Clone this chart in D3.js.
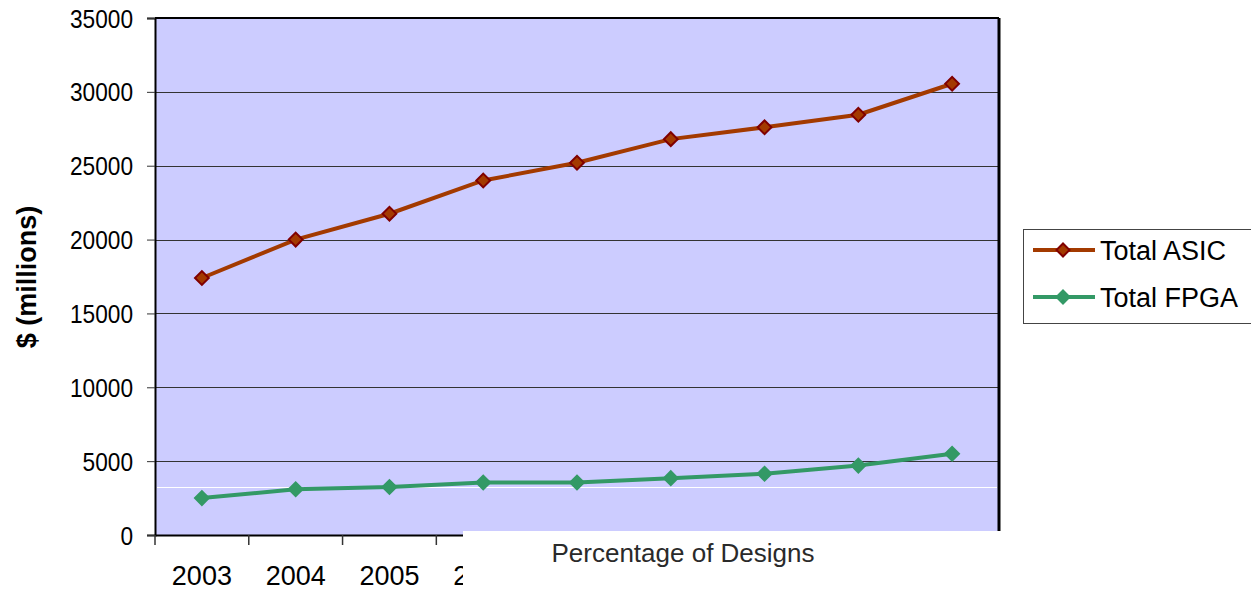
<!DOCTYPE html>
<html>
<head>
<meta charset="utf-8">
<script src="https://cdn.jsdelivr.net/npm/d3@7"></script>
<style>
  body { margin: 0; background: #fff; }
  svg { display: block; font-family: Arial, "Liberation Sans", sans-serif; }
</style>
</head>
<body>
<div id="chart"></div>
<script>
const years = ['2003', '2004', '2005', '2006', '2007', '2008', '2009', '2010', '2011']
const asic = [17400, 20000, 21750, 24000, 25200, 26800, 27600, 28450, 30550]
const fpga = [2500, 3100, 3250, 3550, 3550, 3850, 4150, 4700, 5500]
const yTicks = [0, 5000, 10000, 15000, 20000, 25000, 30000, 35000]

const series = [
  { name: 'Total ASIC', values: asic, color: '#a33a00', stroke: '#800000' },
  { name: 'Total FPGA', values: fpga, color: '#339966', stroke: '#339966' }
]

const dms = { width: 1251, height: 592, margin: { top: 18, right: 252, bottom: 57, left: 155 } }
dms.contentWidth = dms.width - dms.margin.left - dms.margin.right
dms.contentHeight = dms.height - dms.margin.top - dms.margin.bottom

// white box that hides part of the x axis
const coverX = 463
const coverY = 531

const svg = d3.select('#chart').append('svg')
    .attr('width', dms.width)
    .attr('height', dms.height)

const content = svg.append('g')
    .attr('transform', `translate(${dms.margin.left},${dms.margin.top})`)

const xScale = d3.scaleBand()
    .domain(years)
    .range([0, dms.contentWidth])

const yScale = d3.scaleLinear()
    .domain([0, 35000])
    .range([dms.contentHeight, 0])

// plot background
content.append('rect')
    .attr('width', dms.contentWidth)
    .attr('height', dms.contentHeight)
    .attr('fill', '#ccccff')

// grid lines
content.selectAll('.grid')
    .data(yTicks.filter(d => d > 0 && d < 35000))
    .join('line')
    .attr('x1', 0)
    .attr('x2', dms.contentWidth)
    .attr('y1', d => Math.round(yScale(d)) + 0.5)
    .attr('y2', d => Math.round(yScale(d)) + 0.5)
    .attr('stroke', '#333')
    .attr('stroke-width', 1)

// stray white line
content.append('line')
    .attr('x1', 2)
    .attr('x2', dms.contentWidth - 2)
    .attr('y1', Math.round(yScale(3250)) + 0.5)
    .attr('y2', Math.round(yScale(3250)) + 0.5)
    .attr('stroke', '#fff')
    .attr('stroke-width', 1)

// frame
content.append('line').attr('x1', 0).attr('x2', dms.contentWidth).attr('y1', 0).attr('y2', 0)
    .attr('stroke', '#000').attr('stroke-width', 2)
content.append('line').attr('x1', dms.contentWidth).attr('x2', dms.contentWidth).attr('y1', 0).attr('y2', dms.contentHeight)
    .attr('stroke', '#000').attr('stroke-width', 3)

// y axis
const yAxis = content.append('g')
    .call(d3.axisLeft(yScale).tickValues(yTicks).tickSize(8).tickPadding(14).tickFormat(d3.format('d')))
yAxis.select('.domain').attr('stroke', '#000').attr('stroke-width', 2)
yAxis.selectAll('.tick line').attr('stroke', '#333')
yAxis.selectAll('text')
    .attr('font-size', 25)
    .attr('fill', '#000')
    .attr('dy', '0.36em')
    .attr('lengthAdjust', 'spacingAndGlyphs')
    .attr('textLength', d => String(d).length * 12.6)

// x axis, clipped at the white box
svg.append('clipPath').attr('id', 'xclip')
  .append('rect')
    .attr('x', -10).attr('y', -2)
    .attr('width', coverX - dms.margin.left + 10).attr('height', 80)

const xAxis = content.append('g')
    .attr('transform', `translate(0,${dms.contentHeight})`)
    .attr('clip-path', 'url(#xclip)')
    .call(d3.axisBottom(xScale).tickSize(0).tickPadding(30))
xAxis.select('.domain').attr('stroke', '#000').attr('stroke-width', 2)
xAxis.selectAll('text')
    .attr('font-size', 27)
    .attr('fill', '#000')
    .attr('y', 50)
    .attr('dy', 0)
// labels that sit fully under the white box are not shown
xAxis.selectAll('.tick')
    .filter(d => xScale(d) + xScale.bandwidth() / 2 - 30 > coverX - dms.margin.left)
    .remove()
xAxis.selectAll('.bound')
    .data(years)
    .join('line')
    .attr('x1', d => xScale(d))
    .attr('x2', d => xScale(d))
    .attr('y1', 0)
    .attr('y2', 10)
    .attr('stroke', '#333')
    .attr('stroke-width', 1.5)

// lines and markers
const lineGen = d3.line()
    .x((d, i) => xScale(years[i]) + xScale.bandwidth() / 2)
    .y(d => yScale(d))

series.forEach(s => {
  content.append('path')
      .datum(s.values)
      .attr('d', lineGen)
      .attr('fill', 'none')
      .attr('stroke', s.color)
      .attr('stroke-width', 4)
  content.selectAll(null)
      .data(s.values)
      .join('path')
      .attr('transform', (d, i) => `translate(${xScale(years[i]) + xScale.bandwidth() / 2},${yScale(d)}) rotate(45)`)
      .attr('d', d3.symbol().type(d3.symbolSquare).size(95))
      .attr('fill', s.color)
      .attr('stroke', s.stroke)
      .attr('stroke-width', 2)
})

// white overlay box with caption
svg.append('rect')
    .attr('x', coverX)
    .attr('y', coverY)
    .attr('width', dms.width - coverX)
    .attr('height', dms.height - coverY)
    .attr('fill', '#fff')
svg.append('text')
    .attr('x', 683)
    .attr('y', 562)
    .attr('text-anchor', 'middle')
    .attr('font-size', 26)
    .attr('fill', '#2a2a2a')
    .text('Percentage of Designs')

// y title
svg.append('text')
    .attr('transform', 'translate(36,277) rotate(-90)')
    .attr('text-anchor', 'middle')
    .attr('font-size', 27)
    .attr('font-weight', 'bold')
    .text('$ (millions)')

// legend
const legend = svg.append('g').attr('transform', 'translate(1023,229)')
legend.append('rect')
    .attr('x', 0.5).attr('y', 0.5)
    .attr('width', 240).attr('height', 94)
    .attr('fill', '#fff')
    .attr('stroke', '#444')
    .attr('stroke-width', 1)
series.forEach((s, i) => {
  const g = legend.append('g').attr('transform', `translate(0,${21 + i * 47})`)
  g.append('line')
      .attr('x1', 10).attr('x2', 72)
      .attr('stroke', s.color).attr('stroke-width', 4)
  g.append('path')
      .attr('transform', 'translate(40,0) rotate(45)')
      .attr('d', d3.symbol().type(d3.symbolSquare).size(85))
      .attr('fill', s.color)
      .attr('stroke', s.stroke)
      .attr('stroke-width', 2)
  g.append('text')
      .attr('x', 77)
      .attr('dy', '0.36em')
      .attr('font-size', 27)
      .text(s.name)
})
</script>
</body>
</html>
